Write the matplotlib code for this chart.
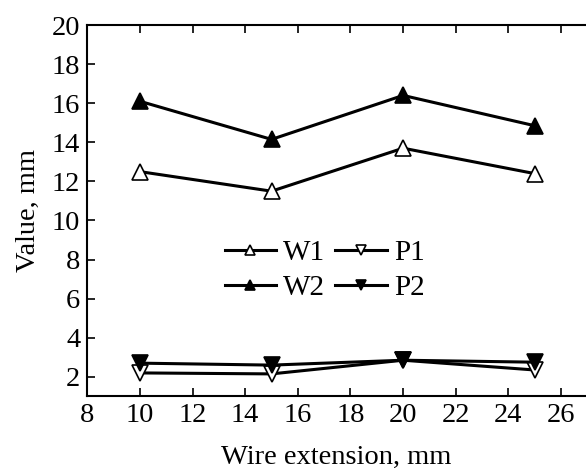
import matplotlib
matplotlib.use("Agg")
import matplotlib.pyplot as plt

plt.rcParams["font.family"] = "serif"
plt.rcParams["font.serif"] = ["Liberation Serif", "DejaVu Serif"]
plt.rcParams["font.size"] = 20.5

EXTENSION = [10, 15, 20, 25]

W1 = [12.5, 11.5, 13.7, 12.4]
P1 = [2.2, 2.15, 2.85, 2.35]
W2 = [16.1, 14.15, 16.4, 14.85]
P2 = [2.7, 2.6, 2.85, 2.75]

SERIES = [
    ("W1", W1, "^", "white"),
    ("W2", W2, "^", "black"),
    ("P1", P1, "v", "white"),
    ("P2", P2, "v", "black"),
]

if __name__ == "__main__":
    fig = plt.figure(figsize=(5.86, 4.73), dpi=100)
    ax = fig.add_axes([0.149, 0.162, 0.851, 0.785])

    for label, values, marker, face in SERIES:
        ax.plot(EXTENSION, values, color="black", linewidth=2.2,
                marker=marker, markersize=12, markerfacecolor=face,
                markeredgecolor="black", markeredgewidth=1.2, label=label)

    ax.set_xlim(8, 26.95)
    ax.set_ylim(1, 20)
    ax.set_xticks(range(8, 27, 2))
    ax.set_yticks(range(2, 21, 2))
    ax.tick_params(direction="in", length=6, width=1.2, top=True, right=False,
                   labelsize=20.5, pad=5)
    for side in ("left", "bottom", "top"):
        ax.spines[side].set_linewidth(1.5)
    ax.spines["right"].set_visible(False)

    ax.set_xlabel("Wire extension, mm", fontsize=20.5, labelpad=12)
    ax.set_ylabel("Value, mm", fontsize=20.5, labelpad=8)

    ax.legend(loc="center", bbox_to_anchor=(0.476, 0.34), ncol=2,
              frameon=False, fontsize=21, handlelength=1.75, handletextpad=0.25,
              columnspacing=0.35, labelspacing=0.3, borderpad=0,
              markerscale=0.6)

    fig.savefig("out.png", dpi=100)
